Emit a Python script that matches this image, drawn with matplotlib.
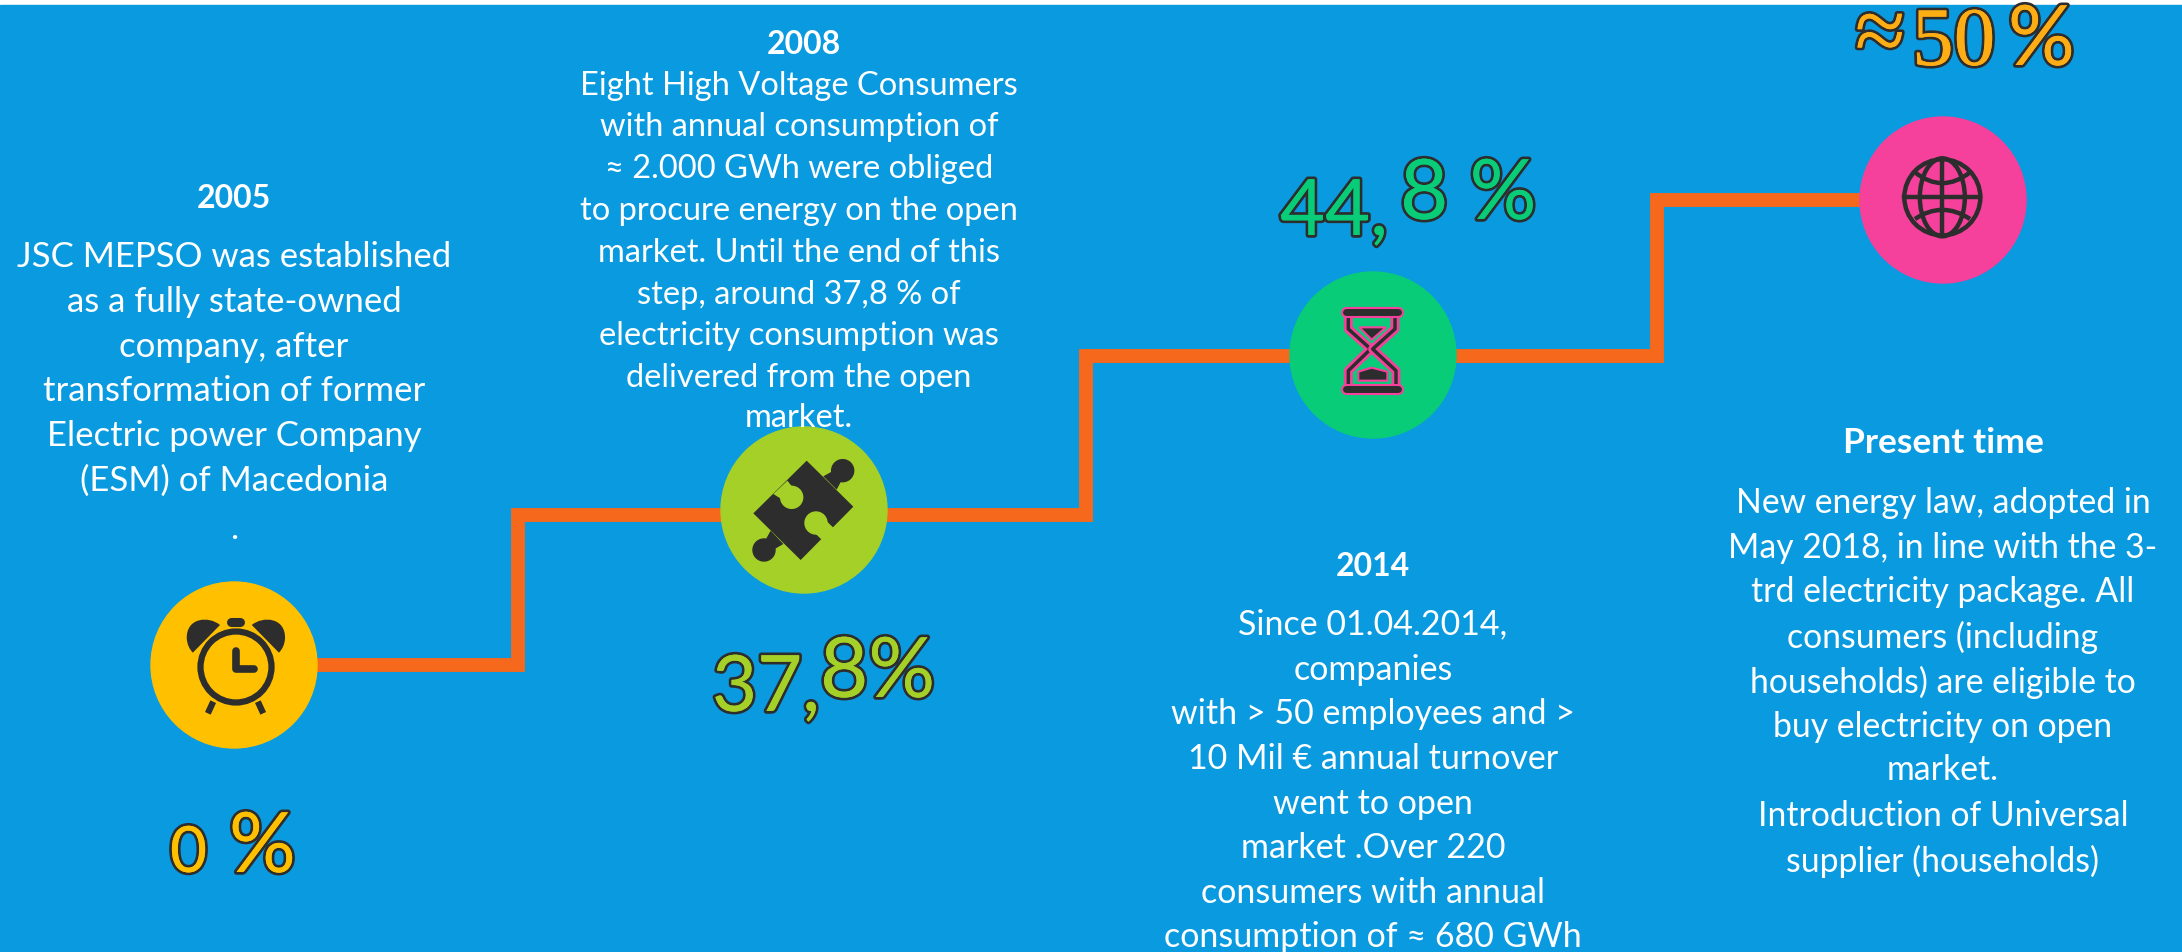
import matplotlib
matplotlib.use('Agg')
import matplotlib.pyplot as plt
import matplotlib.patheffects as pe
from matplotlib.patches import Circle, Ellipse, Polygon, PathPatch
from matplotlib.path import Path

# chart content
years = ["2005", "2008", "2014", "Present time"]
shares = ["0 %", "37,8%", "44,8 %", "≈50 %"]
text_2005 = ["JSC MEPSO was established", "as a fully state-owned", "company, after",
             "transformation of former", "Electric power Company", "(ESM) of Macedonia", "."]
text_2008 = ["Eight High Voltage Consumers", "with annual consumption of", "≈ 2.000 GWh were obliged",
             "to procure energy on the open", "market. Until the end of this", "step, around 37,8 % of",
             "electricity consumption was", "delivered from the open", "market."]
text_2014 = ["Since 01.04.2014,", "companies", "with > 50 employees and >", "10 Mil € annual turnover",
             "went to open", "market .Over 220", "consumers with annual", "consumption of ≈ 680 GWh"]
text_now = ["New energy law, adopted in", "May 2018, in line with the 3-", "trd electricity package. All",
            "consumers (including", "households) are eligible to", "buy electricity on open", "market.",
            "Introduction of Universal", "supplier (households)"]

# layout, in pixels of the picture
W, H = 2182, 953
BG = '#0A9AE0'
ORANGE = '#F6681B'
DARK = '#2D2D2D'
PINK = '#F5419B'
circle_x = [234, 804, 1373, 1943]
circle_y = [666, 511, 356, 201]
circle_col = ['#FFC000', '#A5D028', '#08CC78', PINK]
FONT = 'Lato'

fig = plt.figure(figsize=(W / 100, H / 100), dpi=100)
ax = fig.add_axes([0, 0, 1, 1])
ax.set_xlim(0, W)
ax.set_ylim(H, 0)
ax.axis('off')
ax.add_patch(plt.Rectangle((0, 6), W, H, color=BG, zorder=0))

# stepped line
step_x = [circle_x[0], 518, 518, 1086, 1086, 1657, 1657, circle_x[3]]
step_y = [circle_y[0], circle_y[0], 516, 516, 357, 357, 201, 201]
ax.plot(step_x, step_y, color=ORANGE, lw=10, solid_joinstyle='miter', zorder=1)

for x, y, c in zip(circle_x, circle_y, circle_col):
    ax.add_patch(Circle((x, y), 83, color=c, zorder=2))


# text blocks
def block(lines, cx, ys, size):
    for line, y in zip(lines, ys):
        ax.text(cx, y, line, color='white', ha='center', va='center', fontsize=size, family=FONT, zorder=3)


def head(label, cx, y, size=23):
    ax.text(cx, y, label, color='white', ha='center', va='center', fontsize=size, family=FONT,
            fontweight='bold', zorder=3)


head(years[0], 234, 198)
block(text_2005, 234, [257, 302, 347, 391, 436, 481, 529], 25)
head(years[1], 804, 44)
block(text_2008, 799, [86, 127, 169, 211, 253, 295, 336, 378, 418], 23.5)
head(years[2], 1373, 567)
block(text_2014, 1373, [624, 670, 714, 759, 804, 848, 893, 937], 24.5)
head(years[3], 1943, 443, 25.5)
block(text_now, 1943, [503, 548, 592, 637, 682, 727, 770, 816, 861], 24.3)


# large percentages, with old style figures faked by moving pieces up and down
def big(label, x, base, size, col, family=FONT):
    ax.text(x, base, label, color=col, ha='left', va='baseline', fontsize=size, family=family, zorder=3,
            path_effects=[pe.withStroke(linewidth=4, foreground=DARK), pe.Normal()])


big(shares[0][:1], 170, 873, 46, '#FFC000')
big(shares[0][2:], 229, 873, 60, '#FFC000')
big(shares[1][:3], 712, 712, 56, '#A5D028')
big(shares[1][3:], 820, 698, 60, '#A5D028')
big(shares[2][:3], 1280, 236, 56, '#08CC78')
big(shares[2][3:], 1400, 220, 60, '#08CC78')
big(shares[3][:1], 1855, 62, 66, '#FFAD14', 'Liberation Serif')
big(shares[3][1:3], 1912, 66, 60, '#FFAD14', 'Liberation Serif')
big(shares[3][4:], 2008, 66, 60, '#FFAD14')


# icons
def zoom1(p):
    return (p[0] / 2.8, 560 + p[1] / 3)


def zoom2(p):
    return (680 + p[0] / 3, 400 + p[1] / 3)


def zoom3(p):
    return (1240 + p[0] / 3, 130 + p[1] / 3)


def zoom4(p):
    return (1820 + p[0] / 3, p[1] / 3)


# clock
ax.add_patch(Circle((236, 668), 35.5, fc='none', ec=DARK, lw=4.5, zorder=4))
for a, b in [((597, 428), (582, 463)), ((722, 428), (737, 463))]:
    ax.plot(*zip(zoom1(a), zoom1(b)), color=DARK, lw=4.5, solid_capstyle='butt', zorder=4)
ax.plot(*zip(zoom1((660, 275)), zoom1((660, 330)), zoom1((712, 330))), color=DARK, lw=5.5,
        solid_capstyle='round', solid_joinstyle='round', zorder=4)
ax.plot(*zip(zoom1((648, 188)), zoom1((672, 188))), color=DARK, lw=6.5, solid_capstyle='round', zorder=4)
bell_codes = [Path.MOVETO, Path.CURVE4, Path.CURVE4, Path.CURVE4, Path.CURVE3, Path.CURVE3, Path.CLOSEPOLY]
for pts in ([(616, 198), (585, 170), (520, 175), (523, 240), (525, 265), (540, 281), (616, 198)],
            [(705, 198), (736, 170), (801, 175), (798, 240), (796, 265), (781, 281), (705, 198)]):
    ax.add_patch(PathPatch(Path([zoom1(p) for p in pts], bell_codes), fc=DARK, ec='none', zorder=4))

# puzzle piece
ax.add_patch(Polygon([zoom2(p) for p in [(380, 185), (520, 323), (362, 483), (220, 343)]], fc=DARK, ec='none', zorder=4))
for p in [(488, 215), (252, 453)]:
    ax.add_patch(Circle(zoom2(p), 11, color=DARK, zorder=4))
for pts in ([(430, 232), (470, 272), (495, 225), (478, 205)], [(310, 435), (272, 395), (245, 443), (262, 463)]):
    ax.add_patch(Polygon([zoom2(p) for p in pts], fc=DARK, ec='none', zorder=4))
for p in [(335, 295), (408, 372)]:
    ax.add_patch(Circle(zoom2(p), 11, color=circle_col[1], zorder=5))
for pts in ([(280, 285), (322, 245), (350, 280), (320, 310)], [(462, 388), (425, 422), (392, 390), (428, 355)]):
    ax.add_patch(Polygon([zoom2(p) for p in pts], fc=circle_col[1], ec='none', zorder=5))

# hourglass
glow = [pe.withStroke(linewidth=6.5, foreground=PINK)]
glass = [(325, 560), (325, 600), (392, 660), (325, 725), (325, 770)]
glass_r = [(465, 560), (465, 600), (398, 660), (468, 725), (468, 770)]
for pts in (glass, glass_r):
    ax.plot(*zip(*[zoom3(p) for p in pts]), color=DARK, lw=2.5, path_effects=glow, zorder=4)
for y in (548, 780):
    ax.plot(*zip(zoom3((318, y)), zoom3((474, y))), color=DARK, lw=5, solid_capstyle='round',
            path_effects=[pe.withStroke(linewidth=8, foreground=PINK)], zorder=5)
ax.add_patch(Polygon([zoom3(p) for p in [(358, 595), (438, 595), (395, 632)]], fc=DARK, ec=PINK, lw=1.5, zorder=5))
ax.add_patch(Polygon([zoom3(p) for p in [(355, 755), (355, 728), (395, 716), (442, 728), (442, 755)]], fc=DARK, ec=PINK, lw=1.5, zorder=5))

# globe
gx, gy = zoom4((367, 595))
ax.add_patch(Circle((gx, gy), 38, fc='none', ec=DARK, lw=3.2, zorder=4))
ax.add_patch(Ellipse((gx, gy), 45, 78, fc='none', ec=DARK, lw=3.2, zorder=4))
ax.plot([gx, gx], [gy - 38, gy + 38], color=DARK, lw=3.2, zorder=4)
ax.plot([gx - 38, gx + 38], [gy, gy], color=DARK, lw=3.2, zorder=4)
for a, m, b in [((285, 520), (367, 585), (450, 520)), ((285, 660), (367, 605), (450, 660))]:
    arc = Path([zoom4(a), zoom4(m), zoom4(b)], [Path.MOVETO, Path.CURVE3, Path.CURVE3])
    ax.add_patch(PathPatch(arc, fc='none', ec=DARK, lw=3.2, zorder=4))

fig.savefig('out.png', dpi=100, facecolor='white')
